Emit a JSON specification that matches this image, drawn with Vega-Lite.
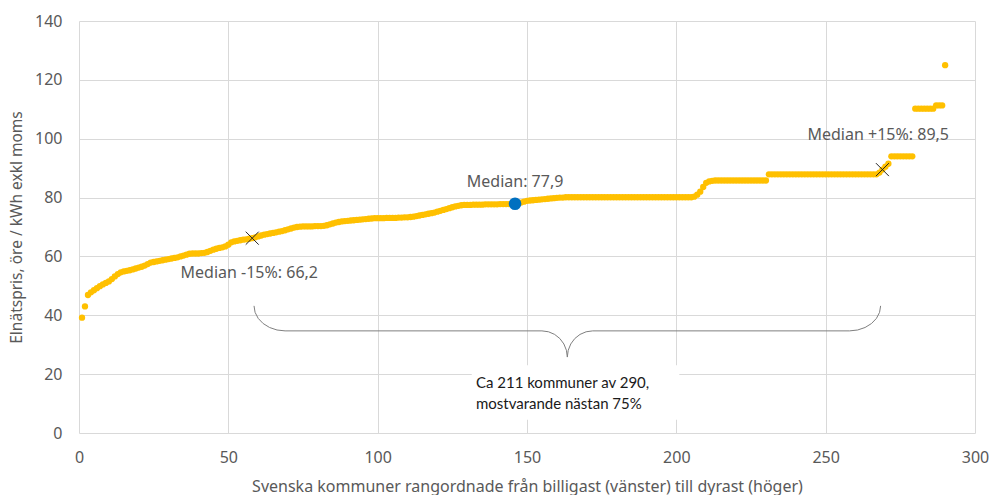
{
  "$schema": "https://vega.github.io/schema/vega-lite/v6.json",
  "width": 896,
  "height": 412,
  "autosize": "none",
  "padding": {"left": 79, "top": 21, "right": 17, "bottom": 62},
  "background": "white",
  "config": {"view": {"stroke": null}, "font": "Noto Sans"},
  "datasets": {
    "pts": [
      {"r":1,"v":39.2},{"r":2,"v":43.0},{"r":3,"v":46.9},{"r":4,"v":47.8},{"r":5,"v":48.5},{"r":6,"v":49.2},{"r":7,"v":49.9},{"r":8,"v":50.5},{"r":9,"v":51.0},{"r":10,"v":51.5},
      {"r":11,"v":52.3},{"r":12,"v":53.2},{"r":13,"v":54.0},{"r":14,"v":54.6},{"r":15,"v":54.9},{"r":16,"v":55.1},{"r":17,"v":55.3},{"r":18,"v":55.6},{"r":19,"v":55.9},{"r":20,"v":56.2},
      {"r":21,"v":56.5},{"r":22,"v":56.9},{"r":23,"v":57.4},{"r":24,"v":57.9},{"r":25,"v":58.1},{"r":26,"v":58.3},{"r":27,"v":58.5},{"r":28,"v":58.7},{"r":29,"v":58.9},{"r":30,"v":59.1},
      {"r":31,"v":59.3},{"r":32,"v":59.5},{"r":33,"v":59.7},{"r":34,"v":60.0},{"r":35,"v":60.3},{"r":36,"v":60.6},{"r":37,"v":60.9},{"r":38,"v":61.0},{"r":39,"v":61.0},{"r":40,"v":61.0},
      {"r":41,"v":61.1},{"r":42,"v":61.2},{"r":43,"v":61.5},{"r":44,"v":61.9},{"r":45,"v":62.3},{"r":46,"v":62.6},{"r":47,"v":62.9},{"r":48,"v":63.1},{"r":49,"v":63.4},{"r":50,"v":64.0},
      {"r":51,"v":64.8},{"r":52,"v":65.1},{"r":53,"v":65.3},{"r":54,"v":65.5},{"r":55,"v":65.7},{"r":56,"v":65.8},{"r":57,"v":66.0},{"r":58,"v":66.2},{"r":59,"v":66.5},{"r":60,"v":66.8},
      {"r":61,"v":67.1},{"r":62,"v":67.4},{"r":63,"v":67.6},{"r":64,"v":67.8},{"r":65,"v":68.0},{"r":66,"v":68.2},{"r":67,"v":68.4},{"r":68,"v":68.6},{"r":69,"v":68.9},{"r":70,"v":69.2},
      {"r":71,"v":69.5},{"r":72,"v":69.8},{"r":73,"v":70.0},{"r":74,"v":70.1},{"r":75,"v":70.2},{"r":76,"v":70.2},{"r":77,"v":70.2},{"r":78,"v":70.2},{"r":79,"v":70.3},{"r":80,"v":70.3},
      {"r":81,"v":70.3},{"r":82,"v":70.4},{"r":83,"v":70.6},{"r":84,"v":70.9},{"r":85,"v":71.2},{"r":86,"v":71.5},{"r":87,"v":71.7},{"r":88,"v":71.9},{"r":89,"v":72.0},{"r":90,"v":72.1},
      {"r":91,"v":72.2},{"r":92,"v":72.3},{"r":93,"v":72.4},{"r":94,"v":72.5},{"r":95,"v":72.6},{"r":96,"v":72.7},{"r":97,"v":72.8},{"r":98,"v":72.9},{"r":99,"v":73.0},{"r":100,"v":73.0},
      {"r":101,"v":73.0},{"r":102,"v":73.0},{"r":103,"v":73.1},{"r":104,"v":73.1},{"r":105,"v":73.1},{"r":106,"v":73.1},{"r":107,"v":73.2},{"r":108,"v":73.2},{"r":109,"v":73.3},{"r":110,"v":73.3},
      {"r":111,"v":73.4},{"r":112,"v":73.5},{"r":113,"v":73.7},{"r":114,"v":73.9},{"r":115,"v":74.1},{"r":116,"v":74.3},{"r":117,"v":74.5},{"r":118,"v":74.7},{"r":119,"v":74.9},{"r":120,"v":75.2},
      {"r":121,"v":75.5},{"r":122,"v":75.8},{"r":123,"v":76.1},{"r":124,"v":76.4},{"r":125,"v":76.7},{"r":126,"v":77.0},{"r":127,"v":77.2},{"r":128,"v":77.4},{"r":129,"v":77.5},{"r":130,"v":77.5},
      {"r":131,"v":77.5},{"r":132,"v":77.6},{"r":133,"v":77.6},{"r":134,"v":77.6},{"r":135,"v":77.6},{"r":136,"v":77.7},{"r":137,"v":77.7},{"r":138,"v":77.7},{"r":139,"v":77.7},{"r":140,"v":77.7},
      {"r":141,"v":77.8},{"r":142,"v":77.8},{"r":143,"v":77.8},{"r":144,"v":77.8},{"r":145,"v":77.9},{"r":146,"v":77.9},{"r":147,"v":78.0},{"r":148,"v":78.3},{"r":149,"v":78.6},{"r":150,"v":78.9},
      {"r":151,"v":79.0},{"r":152,"v":79.1},{"r":153,"v":79.2},{"r":154,"v":79.3},{"r":155,"v":79.4},{"r":156,"v":79.5},{"r":157,"v":79.6},{"r":158,"v":79.7},{"r":159,"v":79.8},{"r":160,"v":79.9},
      {"r":161,"v":80.0},{"r":162,"v":80.0},{"r":163,"v":80.1},{"r":164,"v":80.1},{"r":165,"v":80.1},{"r":166,"v":80.1},{"r":167,"v":80.1},{"r":168,"v":80.1},{"r":169,"v":80.1},{"r":170,"v":80.1},
      {"r":171,"v":80.1},{"r":172,"v":80.1},{"r":173,"v":80.1},{"r":174,"v":80.1},{"r":175,"v":80.1},{"r":176,"v":80.1},{"r":177,"v":80.1},{"r":178,"v":80.1},{"r":179,"v":80.1},{"r":180,"v":80.1},
      {"r":181,"v":80.1},{"r":182,"v":80.1},{"r":183,"v":80.1},{"r":184,"v":80.1},{"r":185,"v":80.1},{"r":186,"v":80.1},{"r":187,"v":80.1},{"r":188,"v":80.1},{"r":189,"v":80.1},{"r":190,"v":80.1},
      {"r":191,"v":80.1},{"r":192,"v":80.1},{"r":193,"v":80.1},{"r":194,"v":80.1},{"r":195,"v":80.1},{"r":196,"v":80.1},{"r":197,"v":80.1},{"r":198,"v":80.1},{"r":199,"v":80.1},{"r":200,"v":80.1},
      {"r":201,"v":80.1},{"r":202,"v":80.1},{"r":203,"v":80.1},{"r":204,"v":80.1},{"r":205,"v":80.1},{"r":206,"v":80.3},{"r":207,"v":81.0},{"r":208,"v":82.0},{"r":209,"v":83.6},{"r":210,"v":85.0},
      {"r":211,"v":85.5},{"r":212,"v":85.7},{"r":213,"v":85.8},{"r":214,"v":85.8},{"r":215,"v":85.8},{"r":216,"v":85.8},{"r":217,"v":85.8},{"r":218,"v":85.8},{"r":219,"v":85.8},{"r":220,"v":85.8},
      {"r":221,"v":85.8},{"r":222,"v":85.8},{"r":223,"v":85.8},{"r":224,"v":85.8},{"r":225,"v":85.8},{"r":226,"v":85.8},{"r":227,"v":85.8},{"r":228,"v":85.8},{"r":229,"v":85.8},{"r":230,"v":85.8},
      {"r":231,"v":87.9},{"r":232,"v":87.9},{"r":233,"v":87.9},{"r":234,"v":87.9},{"r":235,"v":87.9},{"r":236,"v":87.9},{"r":237,"v":87.9},{"r":238,"v":87.9},{"r":239,"v":87.9},{"r":240,"v":87.9},
      {"r":241,"v":87.9},{"r":242,"v":87.9},{"r":243,"v":87.9},{"r":244,"v":87.9},{"r":245,"v":87.9},{"r":246,"v":87.9},{"r":247,"v":87.9},{"r":248,"v":87.9},{"r":249,"v":87.9},{"r":250,"v":87.9},
      {"r":251,"v":87.9},{"r":252,"v":87.9},{"r":253,"v":87.9},{"r":254,"v":87.9},{"r":255,"v":87.9},{"r":256,"v":87.9},{"r":257,"v":87.9},{"r":258,"v":87.9},{"r":259,"v":87.9},{"r":260,"v":87.9},
      {"r":261,"v":87.9},{"r":262,"v":87.9},{"r":263,"v":87.9},{"r":264,"v":87.9},{"r":265,"v":87.9},{"r":266,"v":87.9},{"r":267,"v":87.9},{"r":268,"v":88.5},{"r":269,"v":89.5},{"r":270,"v":90.5},
      {"r":271,"v":91.5},{"r":272,"v":94.0},{"r":273,"v":94.0},{"r":274,"v":94.0},{"r":275,"v":94.0},{"r":276,"v":94.0},{"r":277,"v":94.0},{"r":278,"v":94.0},{"r":279,"v":94.0},{"r":280,"v":110.2},
      {"r":281,"v":110.2},{"r":282,"v":110.2},{"r":283,"v":110.2},{"r":284,"v":110.2},{"r":285,"v":110.2},{"r":286,"v":110.2},{"r":287,"v":111.3},{"r":288,"v":111.3},{"r":289,"v":111.3},{"r":290,"v":125.0}
    ],
    "brace": [
      {"o":1,"x":58.6,"y":43.2},{"o":2,"x":58.95,"y":41.0},{"o":3,"x":60.0,"y":38.95},{"o":4,"x":61.65,"y":37.2},{"o":5,"x":63.8,"y":35.85},{"o":6,"x":66.3,"y":35.0},{"o":7,"x":69.0,"y":34.7},
      {"o":8,"x":155.0,"y":34.7},{"o":9,"x":157.2,"y":34.4},{"o":10,"x":159.25,"y":33.5},{"o":11,"x":161.0,"y":32.1},{"o":12,"x":162.35,"y":30.25},{"o":13,"x":163.2,"y":28.1},{"o":14,"x":163.5,"y":25.8},
      {"o":15,"x":163.8,"y":28.1},{"o":16,"x":164.65,"y":30.25},{"o":17,"x":166.0,"y":32.1},{"o":18,"x":167.75,"y":33.5},{"o":19,"x":169.8,"y":34.4},{"o":20,"x":172.0,"y":34.7},
      {"o":21,"x":258.0,"y":34.7},{"o":22,"x":260.7,"y":35.0},{"o":23,"x":263.2,"y":35.85},{"o":24,"x":265.35,"y":37.2},{"o":25,"x":267.0,"y":38.95},{"o":26,"x":268.05,"y":41.0},{"o":27,"x":268.4,"y":43.2}
    ]
  },
  "layer": [
    {
      "data": {"values": [{"x1": 131.5, "x2": 201, "y1": 4.5, "y2": 23}]},
      "mark": {"type": "rect", "fill": "white"},
      "encoding": {
        "x": {"field": "x1", "type": "quantitative", "scale": {"domain": [0, 300], "nice": false}},
        "x2": {"field": "x2"},
        "y": {"field": "y1", "type": "quantitative", "scale": {"domain": [0, 140], "nice": false}},
        "y2": {"field": "y2"}
      }
    },
    {
      "data": {"name": "brace"},
      "mark": {"type": "line", "stroke": "#7f7f7f", "strokeWidth": 1, "interpolate": "linear"},
      "encoding": {
        "x": {"field": "x", "type": "quantitative"},
        "y": {"field": "y", "type": "quantitative"},
        "order": {"field": "o"}
      }
    },
    {
      "data": {"name": "pts"},
      "mark": {"type": "point", "filled": true, "shape": "circle", "size": 40, "color": "#FFC000", "opacity": 1},
      "encoding": {
        "x": {
          "field": "r", "type": "quantitative",
          "scale": {"domain": [0, 300], "nice": false},
          "axis": {
            "values": [0, 50, 100, 150, 200, 250, 300],
            "title": "Svenska kommuner rangordnade från billigast (vänster) till dyrast (höger)",
            "grid": true, "gridColor": "#d9d9d9", "domain": false, "ticks": false, "tickSize": 0,
            "labelFlush": false, "labelOverlap": false,
            "labelFontSize": 16, "labelColor": "#595959", "labelPadding": 16, "labelFont": "Noto Sans",
            "titleFontSize": 16, "titleColor": "#595959", "titleFontWeight": "normal", "titleFont": "Noto Sans", "titlePadding": 13
          }
        },
        "y": {
          "field": "v", "type": "quantitative",
          "scale": {"domain": [0, 140], "nice": false},
          "axis": {
            "values": [0, 20, 40, 60, 80, 100, 120, 140],
            "title": "Elnätspris, öre / kWh exkl moms",
            "grid": true, "gridColor": "#d9d9d9", "domain": false, "ticks": false, "tickSize": 0,
            "labelFlush": false, "labelOverlap": false,
            "labelFontSize": 16, "labelColor": "#595959", "labelPadding": 17, "labelFont": "Noto Sans",
            "titleFontSize": 15.5, "titleColor": "#595959", "titleFontWeight": "normal", "titleFont": "Noto Sans", "titlePadding": 10
          }
        }
      }
    },
    {
      "data": {"values": [{"r": 146, "v": 77.9}]},
      "mark": {"type": "point", "filled": true, "shape": "circle", "size": 160, "color": "#0070C0", "opacity": 1},
      "encoding": {
        "x": {"field": "r", "type": "quantitative"},
        "y": {"field": "v", "type": "quantitative"}
      }
    },
    {
      "data": {"values": [{"r": 58, "v": 66.2}, {"r": 269, "v": 89.5}]},
      "mark": {"type": "point", "filled": false, "shape": "M-1,-1L1,1M-1,1L1,-1", "size": 169, "stroke": "#262626", "strokeWidth": 1, "opacity": 1},
      "encoding": {
        "x": {"field": "r", "type": "quantitative"},
        "y": {"field": "v", "type": "quantitative"}
      }
    },
    {
      "data": {"values": [
        {"x": 146.0, "y": 85.4, "t": "Median: 77,9"},
        {"x": 57.0, "y": 54.2, "t": "Median -15%: 66,2"},
        {"x": 267.6, "y": 101.3, "t": "Median +15%: 89,5"}
      ]},
      "mark": {"type": "text", "align": "center", "baseline": "middle", "fontSize": 16, "color": "#595959", "font": "Noto Sans"},
      "encoding": {
        "x": {"field": "x", "type": "quantitative"},
        "y": {"field": "y", "type": "quantitative"},
        "text": {"field": "t"}
      }
    },
    {
      "data": {"values": [
        {"x": 132.9, "y": 17.0, "t": "Ca 211 kommuner av 290,"},
        {"x": 132.9, "y": 9.9, "t": "mostvarande nästan 75%"}
      ]},
      "mark": {"type": "text", "align": "left", "baseline": "middle", "fontSize": 15, "color": "#1a1a1a", "font": "Lato"},
      "encoding": {
        "x": {"field": "x", "type": "quantitative"},
        "y": {"field": "y", "type": "quantitative"},
        "text": {"field": "t"}
      }
    }
  ]
}
